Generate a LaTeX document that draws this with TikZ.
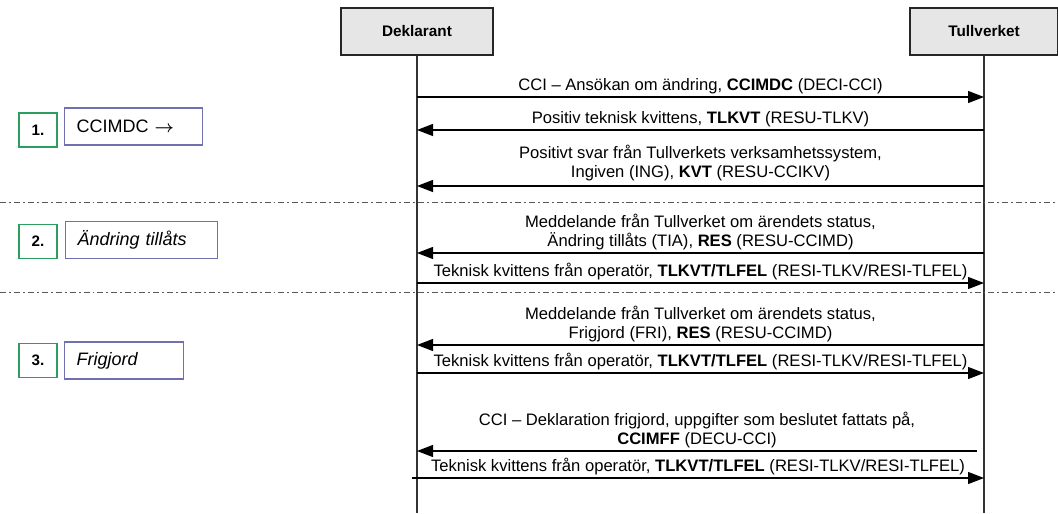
\documentclass[tikz,border=0pt]{standalone}
\usepackage{amsmath}
\usepackage{fontspec}
\setmainfont{Liberation Sans}
\usetikzlibrary{arrows.meta}
\usetikzlibrary{positioning}
\definecolor{actorgray}{RGB}{230,230,230}
\definecolor{stepgreen}{RGB}{46,158,94}
\definecolor{steppurple}{RGB}{112,112,176}
\tikzstyle{actor}=[draw=black!85, fill=actorgray, line width=1.4pt, minimum height=1.175cm, font=\fontsize{10.9}{13}\selectfont\bfseries]
\tikzstyle{lifeline}=[draw=black!80, line width=0.9pt]
\tikzstyle{msg}=[draw=black, line width=0.8pt, -{Triangle[length=0.4cm, width=0.3cm]}]
\tikzstyle{msglabel}=[above, midway, inner sep=1.5pt, align=center, font=\fontsize{11.8}{13.6}\selectfont]
\tikzstyle{phase}=[draw=black!65, line width=0.7pt, dash pattern=on 4.3pt off 2.1pt on 1.4pt off 2.1pt]
\tikzstyle{stepnum}=[draw=stepgreen, line width=1.3pt, minimum width=0.95cm, minimum height=0.85cm, font=\fontsize{10.8}{13}\selectfont\bfseries]
\tikzstyle{steptext}=[draw=steppurple, line width=0.8pt, minimum height=0.925cm, anchor=west, align=left, inner xsep=0.3cm, font=\fontsize{12.8}{15}\selectfont]
\begin{document}
\begin{tikzpicture}[x=0.025cm, y=-0.025cm]
  \useasboundingbox (0,0) rectangle (1058,513);
  % actors
  \node[actor, minimum width=3.8cm] (deklarant) at (417,31.5) {Deklarant};
  \node[actor, minimum width=3.7cm] (tullverket) at (984,31.5) {Tullverket};
  \coordinate (dend) at (417,513);
  \coordinate (tend) at (984,513);
  \draw[lifeline] (deklarant) -- (dend);
  \draw[lifeline] (tullverket) -- (tend);
  % message levels on the lifelines
  \foreach \n/\y in {1/97, 2/130, 3/186, 4/253, 5/283, 6/345, 7/373, 8/451, 9/478} {
    \coordinate (d\n) at (deklarant |- 0,\y);
    \coordinate (t\n) at (tullverket |- 0,\y);
  }
  % phase separators
  \coordinate (sepa1) at (0,202);  \coordinate (sepa2) at (1058,202);
  \coordinate (sepb1) at (0,292);  \coordinate (sepb2) at (1058,292);
  \draw[phase] (sepa1) -- (sepa2);
  \draw[phase] (sepb1) -- (sepb2);
  % phase 1
  \draw[msg] (d1) -- node[msglabel] {CCI -- Ansökan om ändring, \textbf{CCIMDC} (DECI-CCI)} (t1);
  \draw[msg] (t2) -- node[msglabel] {Positiv teknisk kvittens, \textbf{TLKVT} (RESU-TLKV)} (d2);
  \draw[msg] (t3) -- node[msglabel, inner sep=3pt] {Positivt svar från Tullverkets verksamhetssystem,\\Ingiven (ING), \textbf{KVT} (RESU-CCIKV)} (d3);
  % phase 2
  \draw[msg] (t4) -- node[msglabel] {Meddelande från Tullverket om ärendets status,\\Ändring tillåts (TIA), \textbf{RES} (RESU-CCIMD)} (d4);
  \draw[msg] (d5) -- node[msglabel] {Teknisk kvittens från operatör, \textbf{TLKVT/TLFEL} (RESI-TLKV/RESI-TLFEL)} (t5);
  % phase 3
  \draw[msg] (t6) -- node[msglabel] {Meddelande från Tullverket om ärendets status,\\Frigjord (FRI), \textbf{RES} (RESU-CCIMD)} (d6);
  \draw[msg] (d7) -- node[msglabel] {Teknisk kvittens från operatör, \textbf{TLKVT/TLFEL} (RESI-TLKV/RESI-TLFEL)} (t7);
  \draw[msg] ([xshift=-0.175cm]t8) -- node[msglabel] {CCI -- Deklaration frigjord, uppgifter som beslutet fattats på,\\\textbf{CCIMFF} (DECU-CCI)} (d8);
  \draw[msg] ([xshift=-0.125cm]d9) -- node[msglabel] {Teknisk kvittens från operatör, \textbf{TLKVT/TLFEL} (RESI-TLKV/RESI-TLFEL)} (t9);
  % steps
  \node[stepnum] (num1) at (38,130) {1.};
  \node[steptext, text width=2.85cm] (step1) at (64,126.5) {CCIMDC $\boldsymbol{\rightarrow}$};
  \node[stepnum] (num2) at (38,241.5) {2.};
  \node[steptext, text width=3.2cm] (step2) at (65,240) {\itshape Ändring tillåts};
  \node[stepnum] (num3) at (38,360.5) {3.};
  \node[steptext, text width=2.375cm] (step3) at (64,360.5) {\itshape Frigjord};
\end{tikzpicture}
\end{document}
